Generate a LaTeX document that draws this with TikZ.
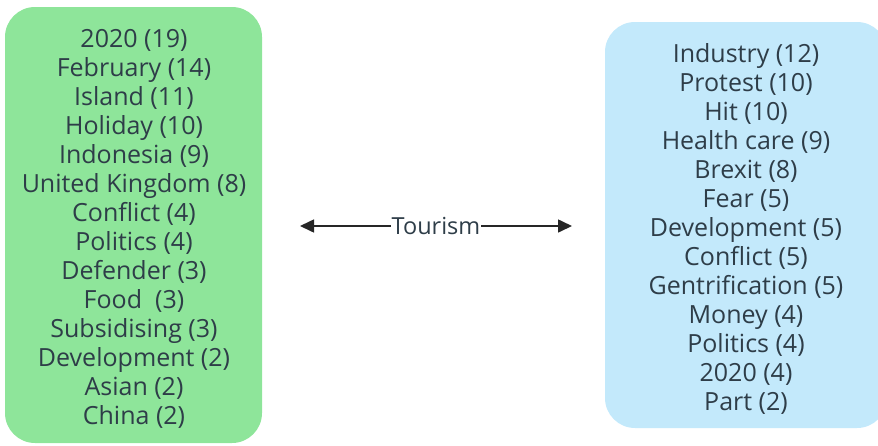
\documentclass[tikz,border=0pt]{standalone}
\usepackage{fontspec}
\setmainfont{Open Sans}
\usetikzlibrary{arrows.meta}
\definecolor{boxgreen}{HTML}{8EE59A}
\definecolor{boxblue}{HTML}{C3E9FB}
\definecolor{txt}{HTML}{2E3D48}
\begin{document}
\begin{tikzpicture}[x=1pt,y=-1pt,
  listbox/.style={rounded corners=30pt, inner sep=0pt},
  listtext/.style={inner sep=0pt, align=center, text=txt, font=\fontsize{25}{29}\selectfont},
  link/.style={{Triangle[length=14pt,width=13pt]}-{Triangle[length=14pt,width=13pt]}, line width=1.6pt, draw=black!85}
]
\useasboundingbox (0,0) rectangle (878,445);
\node[listbox, fill=boxgreen, minimum width=257pt, minimum height=436pt] (L) at (133.5,225) {};
\node[listtext] (Lt) at (134,229)
{2020 (19)\\February (14)\\Island (11)\\Holiday (10)\\Indonesia (9)\\United Kingdom (8)\\Conflict (4)\\Politics (4)\\Defender (3)\\Food\ \ (3)\\Subsidising (3)\\Development (2)\\Asian (2)\\China (2)};
\node[listbox, fill=boxblue, minimum width=282pt, minimum height=406pt] (R) at (746,225) {};
\node[listtext] (Rt) at (746,229)
{Industry (12)\\Protest (10)\\Hit (10)\\Health care (9)\\Brexit (8)\\Fear (5)\\Development (5)\\Conflict (5)\\Gentrification (5)\\Money (4)\\Politics (4)\\2020 (4)\\Part (2)};
\coordinate (A) at (300,226);
\coordinate (B) at (572,226);
\draw[link] (A) -- node[fill=white, inner sep=1pt, text=txt, font=\fontsize{23.5}{26}\selectfont] (T) {Tourism} (B);
\end{tikzpicture}
\end{document}
